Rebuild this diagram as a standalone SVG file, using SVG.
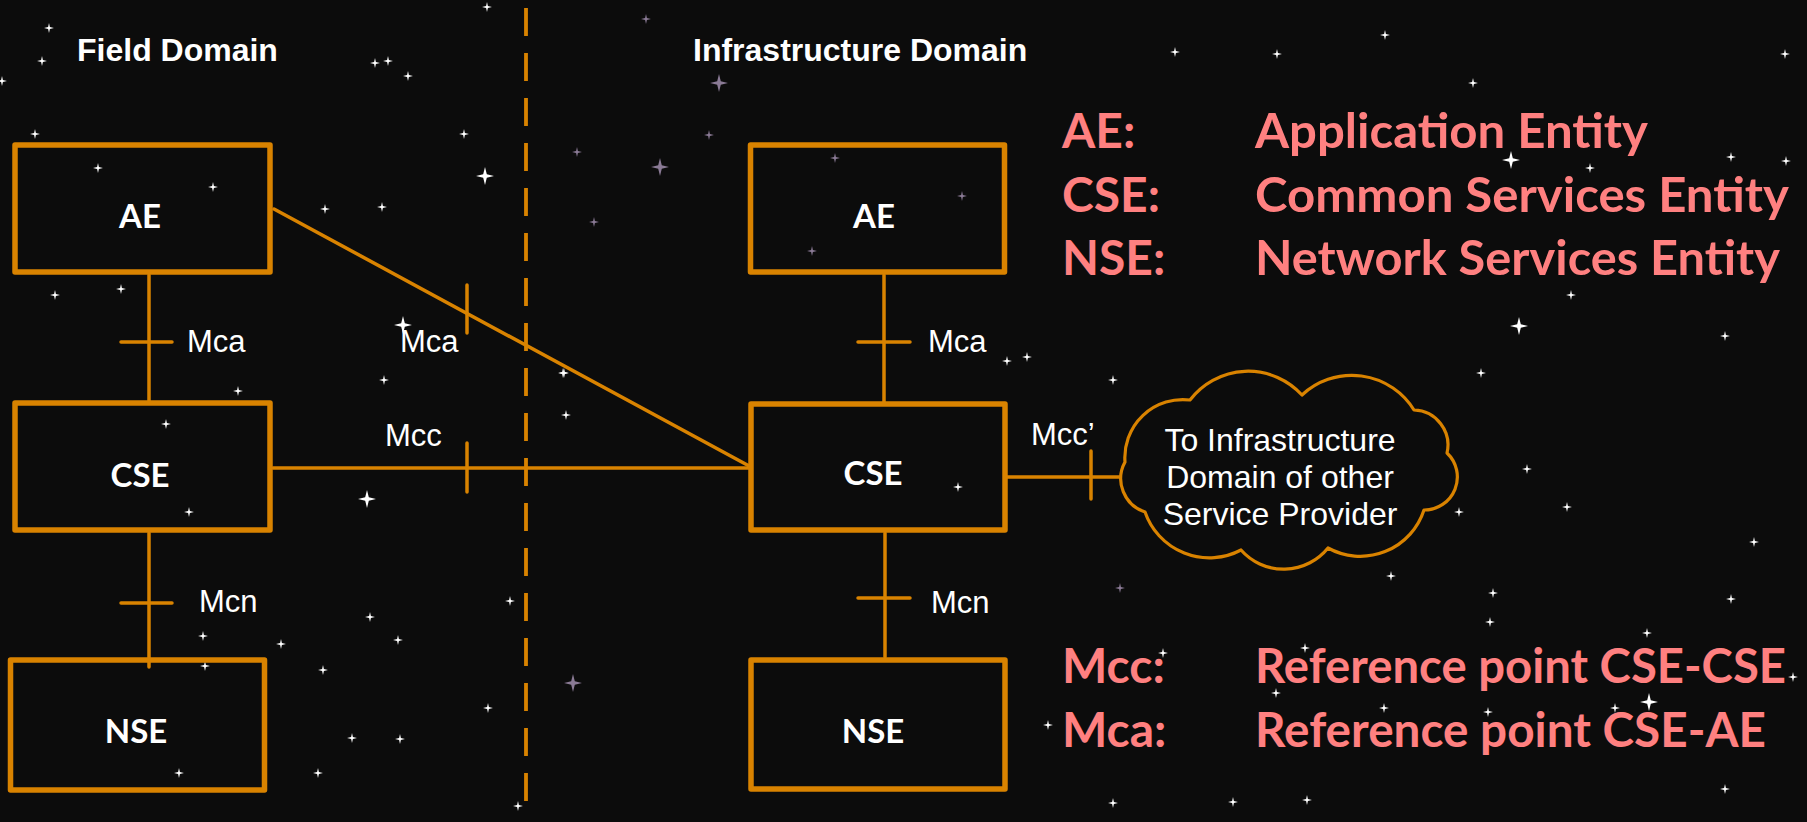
<svg xmlns="http://www.w3.org/2000/svg" xmlns:xlink="http://www.w3.org/1999/xlink" width="1807" height="822" viewBox="0 0 1807 822">
<style>
.box{fill:none;stroke:#D98300;stroke-width:5.5;stroke-linejoin:round}
.ln{fill:none;stroke:#D98300;stroke-width:3.5;stroke-linecap:round}
.dash{fill:none;stroke:#D98300;stroke-width:3.8;stroke-dasharray:28 17}
.cloud{fill:#0C0C0C;stroke:#D98300;stroke-width:3.2;stroke-linejoin:round}
.nl{font-family:Lato,"Open Sans",sans-serif;font-weight:bold;font-size:33px;fill:#FFFFFF;text-anchor:middle}
.lb{font-family:"Liberation Sans",Arial,sans-serif;font-size:31px;fill:#FFFFFF}
.dom{font-family:"Liberation Sans",Arial,sans-serif;font-weight:bold;font-size:32px;fill:#FFFFFF}
.ct{font-family:"Liberation Sans",Arial,sans-serif;font-size:32px;fill:#FFFFFF;text-anchor:middle}
.lg{font-family:Lato,"Open Sans",sans-serif;font-weight:bold;font-size:48px;fill:#FF8080}
.st{fill:#FFFFFF}
.sp{fill:#8A7A95}
</style>
<defs>
<path id="s" d="M0,-5 L0.9,-0.9 L5,0 L0.9,0.9 L0,5 L-0.9,0.9 L-5,0 L-0.9,-0.9 Z"/>
<path id="b" d="M0,-9 L1.8,-1.8 L9,0 L1.8,1.8 L0,9 L-1.8,1.8 L-9,0 L-1.8,-1.8 Z"/>
</defs>
<rect x="0" y="0" width="1807" height="822" fill="#0C0C0C"/>
<g id="stars">
<use href="#s" class="st" x="487" y="7"/><use href="#s" class="st" x="49" y="28"/><use href="#s" class="st" x="42" y="61"/>
<use href="#s" class="st" x="2" y="81"/><use href="#s" class="st" x="375" y="63"/><use href="#s" class="st" x="388" y="61"/>
<use href="#s" class="st" x="408" y="76"/><use href="#s" class="st" x="35" y="134"/><use href="#s" class="st" x="464" y="134"/>
<use href="#s" class="sp" x="577" y="152"/><use href="#b" class="st" x="485" y="176"/><use href="#s" class="st" x="98" y="168"/>
<use href="#s" class="st" x="213" y="187"/><use href="#s" class="st" x="325" y="209"/><use href="#s" class="st" x="382" y="207"/>
<use href="#s" class="sp" x="594" y="222"/><use href="#s" class="st" x="55" y="295"/><use href="#s" class="st" x="121" y="289"/>
<use href="#b" class="st" x="403" y="325"/><use href="#s" class="st" x="384" y="380"/><use href="#s" class="st" x="238" y="391"/>
<use href="#s" class="st" x="564" y="373"/><use href="#s" class="st" x="566" y="415"/><use href="#s" class="st" x="166" y="424"/>
<use href="#s" class="st" x="189" y="512"/><use href="#b" class="st" x="367" y="499"/><use href="#s" class="st" x="370" y="617"/>
<use href="#s" class="st" x="398" y="640"/><use href="#s" class="st" x="510" y="601"/><use href="#s" class="st" x="203" y="636"/>
<use href="#s" class="st" x="281" y="644"/><use href="#s" class="st" x="205" y="666"/><use href="#s" class="st" x="323" y="670"/>
<use href="#b" class="sp" x="573" y="683"/><use href="#s" class="st" x="488" y="708"/><use href="#s" class="st" x="352" y="738"/>
<use href="#s" class="st" x="400" y="739"/><use href="#s" class="st" x="179" y="773"/><use href="#s" class="st" x="318" y="773"/>
<use href="#s" class="st" x="518" y="806"/><use href="#s" class="sp" x="646" y="19"/><use href="#b" class="sp" x="719" y="83"/>
<use href="#s" class="sp" x="709" y="135"/><use href="#b" class="sp" x="660" y="167"/><use href="#s" class="sp" x="835" y="158"/>
<use href="#s" class="sp" x="812" y="251"/><use href="#s" class="sp" x="962" y="196"/><use href="#s" class="st" x="1007" y="361"/>
<use href="#s" class="st" x="1027" y="357"/><use href="#s" class="st" x="563" y="373"/><use href="#s" class="st" x="1481" y="373"/>
<use href="#s" class="st" x="1113" y="380"/><use href="#s" class="st" x="1233" y="420"/><use href="#s" class="st" x="958" y="487"/>
<use href="#s" class="st" x="1459" y="512"/><use href="#s" class="st" x="1391" y="576"/><use href="#s" class="sp" x="1120" y="588"/>
<use href="#s" class="st" x="1493" y="593"/><use href="#s" class="st" x="1305" y="648"/><use href="#s" class="st" x="1163" y="653"/>
<use href="#s" class="st" x="1276" y="693"/><use href="#s" class="st" x="1384" y="708"/><use href="#s" class="st" x="1488" y="712"/>
<use href="#s" class="st" x="1048" y="725"/><use href="#s" class="st" x="1233" y="802"/><use href="#s" class="st" x="1307" y="800"/>
<use href="#s" class="st" x="1113" y="803"/><use href="#s" class="st" x="1473" y="83"/><use href="#b" class="st" x="1511" y="160"/>
<use href="#s" class="st" x="1590" y="168"/><use href="#s" class="st" x="1731" y="157"/><use href="#s" class="st" x="1571" y="295"/>
<use href="#b" class="st" x="1649" y="702"/><use href="#s" class="st" x="1615" y="708"/><use href="#s" class="st" x="1793" y="677"/>
<use href="#s" class="st" x="1647" y="633"/><use href="#b" class="st" x="1519" y="326"/><use href="#s" class="st" x="1725" y="336"/>
<use href="#s" class="st" x="1567" y="507"/><use href="#s" class="st" x="1527" y="469"/><use href="#s" class="st" x="1754" y="542"/>
<use href="#s" class="st" x="1785" y="54"/><use href="#s" class="st" x="1175" y="52"/><use href="#s" class="st" x="1277" y="54"/>
<use href="#s" class="st" x="1385" y="35"/><use href="#s" class="st" x="1786" y="161"/><use href="#s" class="st" x="1731" y="599"/>
<use href="#s" class="st" x="1725" y="789"/><use href="#s" class="st" x="1490" y="622"/>
</g>
<text class="dom" x="77" y="61">Field Domain</text>
<text class="dom" x="693" y="61">Infrastructure Domain</text>
<g id="connectors">
<line class="dash" x1="526" y1="8" x2="526" y2="816"/>
<line class="ln" x1="149" y1="275" x2="149" y2="402"/>
<line class="ln" x1="121" y1="342" x2="172" y2="342"/>
<line class="ln" x1="149" y1="533" x2="149" y2="667"/>
<line class="ln" x1="121" y1="603" x2="172" y2="603"/>
<line class="ln" x1="274" y1="209" x2="751" y2="467"/>
<line class="ln" x1="467" y1="285" x2="467" y2="333"/>
<line class="ln" x1="273" y1="468" x2="751" y2="468"/>
<line class="ln" x1="467" y1="443" x2="467" y2="492"/>
<line class="ln" x1="884" y1="275" x2="884" y2="402"/>
<line class="ln" x1="858" y1="342" x2="910" y2="342"/>
<line class="ln" x1="885" y1="533" x2="885" y2="657"/>
<line class="ln" x1="858" y1="598" x2="910" y2="598"/>
<line class="ln" x1="1007" y1="477" x2="1121" y2="477"/>
<line class="ln" x1="1091" y1="451" x2="1091" y2="499"/>
<text class="lb" x="187" y="352">Mca</text>
<text class="lb" x="400" y="352">Mca</text>
<text class="lb" x="385" y="446">Mcc</text>
<text class="lb" x="199" y="612">Mcn</text>
<text class="lb" x="928" y="352">Mca</text>
<text class="lb" x="1031" y="445">Mcc’</text>
<text class="lb" x="931" y="613">Mcn</text>
</g>
<g id="field-ae"><rect class="box" x="15" y="145" width="255" height="127"/><text class="nl" x="140" y="228">AE</text></g>
<g id="field-cse"><rect class="box" x="15" y="403" width="255" height="127"/><text class="nl" x="140" y="487">CSE</text></g>
<g id="field-nse"><rect class="box" x="10.5" y="660" width="254" height="130"/><text class="nl" x="136" y="743">NSE</text></g>
<g id="infra-ae"><rect class="box" x="750.5" y="145" width="254" height="127"/><text class="nl" x="874" y="228">AE</text></g>
<g id="infra-cse"><rect class="box" x="751" y="404" width="254" height="126"/><text class="nl" x="873" y="485">CSE</text></g>
<g id="infra-nse"><rect class="box" x="751" y="660" width="254" height="129"/><text class="nl" x="873" y="743">NSE</text></g>
<g id="cloud">
<path class="cloud" d="M1125,462 A58,58 0 0 1 1190,400 A73,73 0 0 1 1302,395 A73,73 0 0 1 1414,410 A35,35 0 0 1 1447,453 A33,33 0 0 1 1424,510 A67,67 0 0 1 1328,548 A57,57 0 0 1 1241,550 A68,68 0 0 1 1145,512 A35,35 0 0 1 1125,462 Z"/>
<text class="ct" x="1280" y="451">To Infrastructure</text>
<text class="ct" x="1280" y="488">Domain of other</text>
<text class="ct" x="1280" y="525">Service Provider</text>
</g>
<g id="legend">
<text class="lg" x="1062" y="148">AE:</text>
<text class="lg" x="1255" y="148" textLength="393" lengthAdjust="spacingAndGlyphs">Application Entity</text>
<text class="lg" x="1062" y="212">CSE:</text>
<text class="lg" x="1255" y="212" textLength="534" lengthAdjust="spacingAndGlyphs">Common Services Entity</text>
<text class="lg" x="1062" y="275">NSE:</text>
<text class="lg" x="1255" y="275" textLength="525" lengthAdjust="spacingAndGlyphs">Network Services Entity</text>
<text class="lg" x="1062" y="683">Mcc:</text>
<text class="lg" x="1255" y="683" textLength="531" lengthAdjust="spacingAndGlyphs">Reference point CSE-CSE</text>
<text class="lg" x="1062" y="747">Mca:</text>
<text class="lg" x="1255" y="747" textLength="511" lengthAdjust="spacingAndGlyphs">Reference point CSE-AE</text>
</g>
</svg>
